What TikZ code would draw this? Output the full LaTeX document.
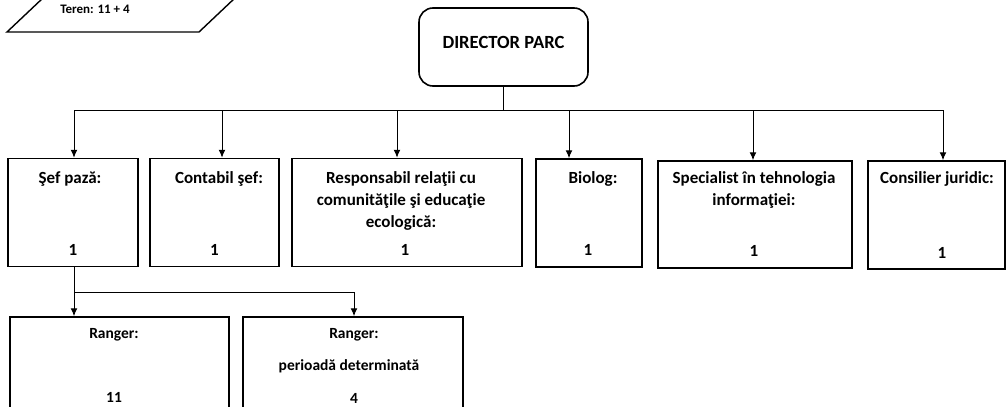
\documentclass[tikz,border=0pt]{standalone}
\usepackage{fontspec}
\setmainfont{Carlito}
\usetikzlibrary{arrows.meta}

\begin{document}
\begin{tikzpicture}[x=0.5pt,y=-0.5pt,
  box/.style={draw, line width=0.75pt, minimum height=54pt, inner sep=0pt},
  lbl/.style={font=\fontsize{8.5}{11}\selectfont\bfseries, align=center, inner sep=0pt, anchor=base},
  lblsm/.style={lbl, font=\fontsize{7.75}{11}\selectfont\bfseries},
  arr/.style={-{Latex[length=4pt,width=3.4pt]}, line width=0.5pt}]

  \useasboundingbox[fill=white] (0,0) rectangle (1007,407);

  %% teren (cut at the top)
  \draw[line width=0.7pt] (7,32) -- (199,32) -- (254,-20) -- (62,-20) -- cycle;
  \node[lbl, font=\fontsize{6.5}{8}\selectfont\bfseries] (teren) at (95,13) {Teren: 11 + 4};

  %% director
  \node[draw, line width=0.8pt, rounded corners=7pt, minimum width=84.5pt, minimum height=39pt] (dir) at (503.5,47) {};
  \node[lbl, font=\fontsize{9.3}{12}\selectfont\bfseries] (dirT) at (503.5,48) {DIRECTOR PARC};

  %% first row
  \node[box, minimum width=65pt] (sef) at (73,212.5) {};
  \node[box, minimum width=64.5pt] (cont) at (214.5,212.5) {};
  \node[box, minimum width=115pt] (resp) at (407,212.5) {};
  \node[box, minimum width=53pt] (bio) at (589,213) {};
  \node[box, minimum width=97pt, minimum height=53.5pt] (spec) at (755,214.5) {};
  \node[box, minimum width=68.5pt] (cons) at (936.5,215) {};

  \node[lbl] (sefT) at (70,183) {Şef pază:};
  \node[lbl] (sefN) at (73,255) {1};
  \node[lbl] (contT) at (219,183) {Contabil şef:};
  \node[lbl] (contN) at (214.5,255) {1};
  \node[lbl] (respT) at (401,227) {Responsabil relaţii cu\\comunităţile şi educaţie\\ecologică:};
  \node[lbl] (respN) at (405,255) {1};
  \node[lbl] (bioT) at (593,183) {Biolog:};
  \node[lbl] (bioN) at (588,255) {1};
  \node[lbl] (specT) at (754,205) {Specialist în tehnologia\\informaţiei:};
  \node[lbl] (specN) at (754,256) {1};
  \node[lbl] (consT) at (937,183) {Consilier juridic:};
  \node[lbl] (consN) at (942,258) {1};

  %% second row (cut at the bottom)
  \node[box, minimum width=109.5pt, minimum height=61.5pt] (rng1) at (119.5,378.5) {};
  \node[box, minimum width=110pt, minimum height=61.5pt] (rng2) at (353,378.5) {};

  \node[lblsm] (rng1T) at (114,338) {Ranger:};
  \node[lblsm] (rng1N) at (114,402) {11};
  \node[lblsm] (rng2T) at (354,338) {Ranger:};
  \node[lblsm] (rng2D) at (349,370) {perioadă determinată};
  \node[lblsm] (rng2N) at (354,403) {4};

  %% connectors
  \foreach \n/\x in {sef/74, cont/222, resp/397, bio/569, spec/753, cons/943}{
    \coordinate (t\n) at (\x,110);
    \draw[arr] (t\n) -- (t\n |- \n.north);
  }
  \draw[line width=0.5pt] (dir.south) -- (dir.south |- tsef);
  \draw[line width=0.5pt] (tsef) -- (tcons);

  \coordinate (split) at (74,292);
  \coordinate (splitB) at (354,292);
  \draw[line width=0.5pt] (split |- sef.south) -- (split) -- (splitB);
  \draw[arr] (split) -- (split |- rng1.north);
  \draw[arr] (splitB) -- (splitB |- rng2.north);

\end{tikzpicture}
\end{document}
